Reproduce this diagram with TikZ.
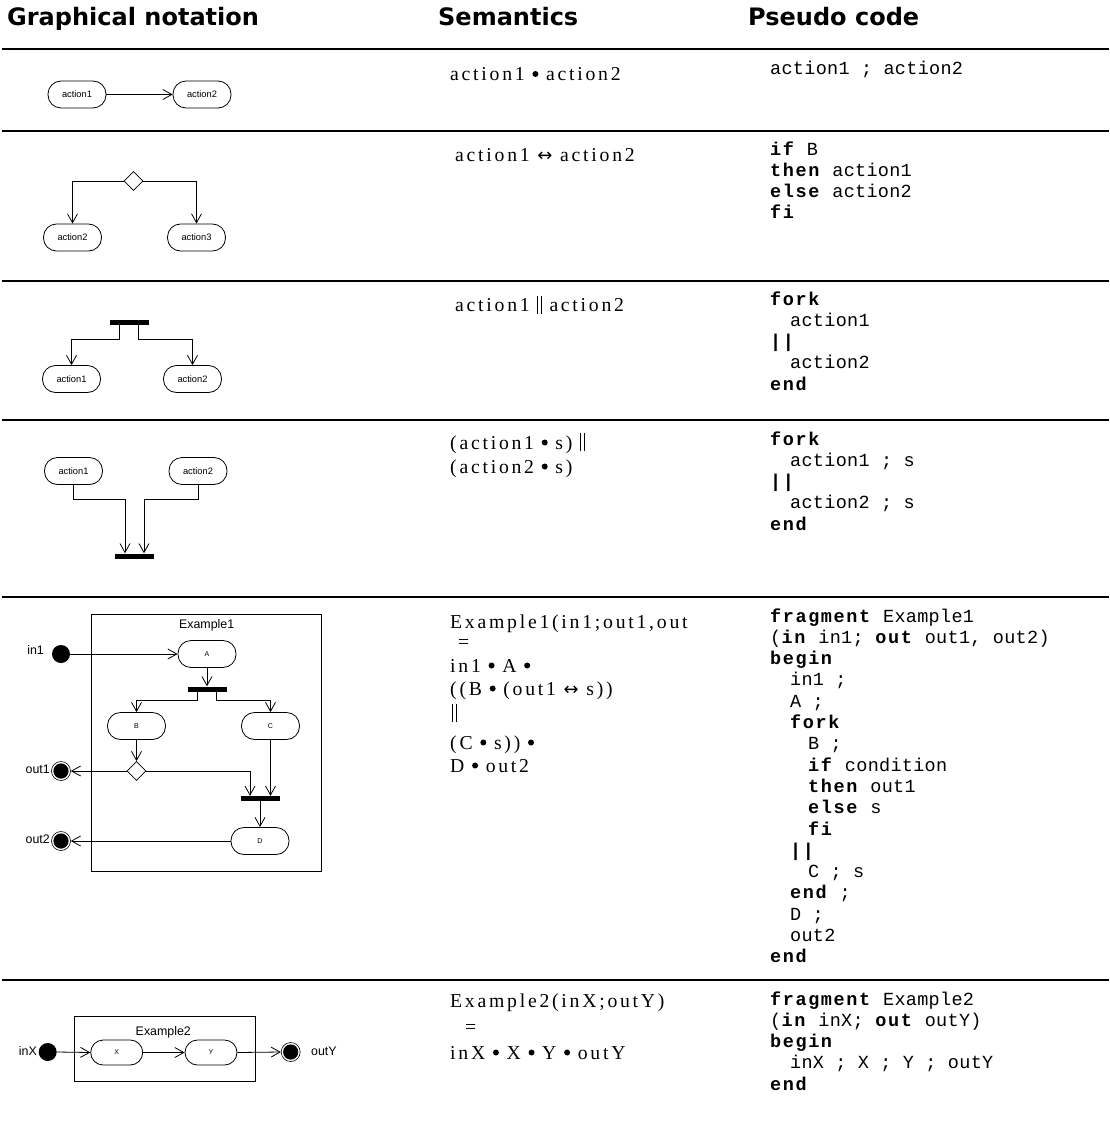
\documentclass[tikz,border=0pt]{standalone}
\usepackage{fontspec}
\usetikzlibrary{arrows.meta,shapes.geometric,calc}
\setmainfont{Liberation Serif}
\newfontfamily\headfont{DejaVu Sans}
\newfontfamily\semfont{Liberation Serif}[LetterSpace=14]
\newfontfamily\codefont{Liberation Mono}[LetterSpace=1.6, BoldFeatures={LetterSpace=8.6}]
\newfontfamily\diafont{Liberation Sans}
\newfontfamily\arrowfont{DejaVu Sans}
\newcommand\kw[1]{\textbf{#1}}
% parallel bars and sequencing dot of the semantic notation
\newcommand\dbar{\mbox{\rule[-2pt]{0.7pt}{18pt}\hspace{3pt}\rule[-2pt]{0.7pt}{18pt}}}
\newcommand\bul{\tikz[baseline={(0pt,-6.5pt)}]\fill (0pt,0pt) circle[radius=3pt];}
\newcommand\lrar{{\arrowfont\fontsize{18}{22}\selectfont ↔}}

\tikzset{
  sepline/.style={line width=2.5pt},
  head/.style={anchor=base west, inner sep=0, font=\headfont\bfseries\fontsize{24}{28}\selectfont},
  sem/.style={anchor=base west, inner sep=0, font=\semfont\fontsize{19.7}{22}\selectfont},
  code/.style={anchor=base west, inner sep=0, font=\codefont\fontsize{18.5}{21.3}\selectfont},
  act/.style={draw, line width=0.8pt, rounded corners=13pt, minimum width=58pt,
    minimum height=27pt, inner sep=0, font=\diafont\fontsize{9.3}{10}\selectfont},
  exact/.style={act, font=\diafont\fontsize{7}{8}\selectfont},
  smallact/.style={act, rounded corners=12.5pt, minimum width=52pt, minimum height=25pt,
    font=\diafont\fontsize{7}{8}\selectfont},
  bar/.style={fill=black, minimum width=39pt, minimum height=5pt, inner sep=0},
  choice/.style={draw, diamond, minimum width=19pt, minimum height=19pt, inner sep=0, line width=0.8pt},
  flow/.style={line width=0.8pt, -{Straight Barb[length=9pt, width=10pt, line width=0.8pt]}},
  startdot/.style={circle, fill=black, minimum size=18pt, inner sep=0},
  enddot/.style={circle, draw, line width=0.6pt, minimum size=19pt, inner sep=0,
    path picture={\fill (path picture bounding box.center) circle (7.6pt);}},
  frame/.style={draw, line width=0.8pt, inner sep=0},
  lbl/.style={font=\diafont\fontsize{12.4}{14}\selectfont, inner sep=0},
}

\begin{document}
\begin{tikzpicture}[x=1pt, y=-1pt]
\useasboundingbox (0,0) rectangle (1109,1129);

% column headings
\node[head] (h1) at (7,26) {Graphical notation};
\node[head] (h2) at (438,26) {Semantics};
\node[head] (h3) at (748,26) {Pseudo code};

% row separators
\foreach \yy/\nm in {49/l0, 131/l1, 281/l2, 420/l3, 597/l4, 980/l5}
  \draw[sepline] (2,\yy) coordinate (\nm a) -- (1109,\yy) coordinate (\nm b);

% ---- sequence
\node[act] (r1a) at (77,94.5) {action1};
\node[act] (r1b) at (202,94.5) {action2};
\draw[flow] (r1a.east) -- (r1b.west);

\node[sem] (s1) at (450,80.5) {action1 \bul{} action2};
\node[code] (c1) at (770,75) {action1 ; action2};

% ---- choice
\node[choice] (r2d) at (133.5,181) {};
\node[act] (r2a) at (72.5,237.5) {action2};
\node[act] (r2b) at (196.5,237.5) {action3};
\draw[flow] (r2d.west) -| (r2a.north);
\draw[flow] (r2d.east) -| (r2b.north);

\node[sem] (s2) at (455,161.5) {action1 \lrar{} action2};
\node[code] (c2a) at (770,155) {\kw{if} B};
\node[code] (c2b) at (770,176.3) {\kw{then} action1};
\node[code] (c2c) at (770,197.6) {\kw{else} action2};
\node[code] (c2d) at (770,218.9) {\kw{fi}};

% ---- fork
\node[bar] (r3bar) at (129.5,322.5) {};
\node[act] (r3a) at (71.5,379) {action1};
\node[act] (r3b) at (192.5,379) {action2};
\draw[flow] ([xshift=-10pt]r3bar.south) -- ++(0,14) -| (r3a.north);
\draw[flow] ([xshift=9pt]r3bar.south) -- ++(0,14) -| (r3b.north);

\node[sem] (s3) at (455,311.5) {action1 \dbar{} action2};
\node[code] (c3a) at (770,305) {\kw{fork}};
\node[code] (c3b) at (790,326.3) {action1};
\node[code] (c3c) at (770,347.6) {\kw{||}};
\node[code] (c3d) at (790,368.9) {action2};
\node[code] (c3e) at (770,390.2) {\kw{end}};

% ---- join
\node[act] (r4a) at (73.5,471) {action1};
\node[act] (r4b) at (198,471) {action2};
\node[bar] (r4bar) at (134.5,556) {};
\draw[flow] (r4a.south) -- ++(0,14.5) -| ([xshift=-9.5pt]r4bar.north);
\draw[flow] (r4b.south) -- ++(0,14.5) -| ([xshift=9.5pt]r4bar.north);

\node[sem] (s4a) at (450,449) {(action1 \bul{} s) \dbar};
\node[sem] (s4b) at (450,473) {(action2 \bul{} s)};
\node[code] (c4a) at (770,445) {\kw{fork}};
\node[code] (c4b) at (790,466.3) {action1 ; s};
\node[code] (c4c) at (770,487.6) {\kw{||}};
\node[code] (c4d) at (790,508.9) {action2 ; s};
\node[code] (c4e) at (770,530.2) {\kw{end}};

% ---- fragment Example1
\node[frame, minimum width=230pt, minimum height=257.7pt] (ex1) at (206.7,742.8) {};
\node[lbl] (ex1t) at (206.7,625) {Example1};
\node[startdot] (in1) at (61,654) {};
\node[lbl, anchor=east] (in1l) at (44,650) {in1};
\node[exact] (nA) at (207,654) {A};
\node[bar] (bar1) at (207,689) {};
\node[exact] (nB) at (136.5,726) {B};
\node[exact] (nC) at (270.5,726) {C};
\node[choice] (d1) at (136.5,771) {};
\node[enddot] (out1) at (61,771) {};
\node[lbl, anchor=east] (out1l) at (50,769) {out1};
\node[bar] (bar2) at (260,798.5) {};
\node[exact] (nD) at (260,841) {D};
\node[enddot] (out2) at (61,841) {};
\node[lbl, anchor=east] (out2l) at (50,839) {out2};

\draw[flow] (in1.east) -- (nA.west);
\draw[flow] (nA.south) -- (bar1.north);
\draw[flow] ([xshift=-9.5pt]bar1.south) -- ++(0,8.5) -| (nB.north);
\draw[flow] ([xshift=9.5pt]bar1.south) -- ++(0,8.5) -| (nC.north);
\draw[flow] (nB.south) -- (d1.north);
\draw[flow] (d1.west) -- (out1.east);
\draw[flow] (d1.east) -| ([xshift=-10pt]bar2.north);
\draw[flow] (nC.south) -- (nC.south |- bar2.north);
\draw[flow] (bar2.south) -- (nD.north);
\draw[flow] (nD.west) -- (out2.east);

\begin{scope}
  \clip (440,600) rectangle (689,640);
  \node[sem] (s5a) at (450,628) {Example1(in1;out1,out2)};
\end{scope}
\node[sem] (s5b) at (458,648) {=};
\node[sem] (s5c) at (450,672) {in1 \bul{} A \bul};
\node[sem] (s5d) at (450,695) {((B \bul{} (out1 \lrar{} s))};
\node[sem] (s5e) at (452,720) {\dbar};
\node[sem] (s5f) at (450,749) {(C \bul{} s)) \bul};
\node[sem] (s5g) at (450,772) {D \bul{} out2};

\node[code] (c5a) at (770,622) {\kw{fragment} Example1};
\node[code] (c5b) at (770,643.3) {(\kw{in} in1; \kw{out} out1, out2)};
\node[code] (c5c) at (770,664.6) {\kw{begin}};
\node[code] (c5d) at (790,685.9) {in1 ;};
\node[code] (c5e) at (790,707.2) {A ;};
\node[code] (c5f) at (790,728.5) {\kw{fork}};
\node[code] (c5g) at (808,749.8) {B ;};
\node[code] (c5h) at (808,771.1) {\kw{if} condition};
\node[code] (c5i) at (808,792.4) {\kw{then} out1};
\node[code] (c5j) at (808,813.7) {\kw{else} s};
\node[code] (c5k) at (808,835) {\kw{fi}};
\node[code] (c5l) at (790,856.3) {\kw{||}};
\node[code] (c5m) at (808,877.6) {C ; s};
\node[code] (c5n) at (790,898.9) {\kw{end} ;};
\node[code] (c5o) at (790,920.2) {D ;};
\node[code] (c5p) at (790,941.5) {out2};
\node[code] (c5q) at (770,962.8) {\kw{end}};

% ---- fragment Example2
\node[frame, minimum width=181pt, minimum height=65.7pt] (ex2) at (164.5,1048.9) {};
\node[lbl] (ex2t) at (163.3,1032.7) {Example2};
\node[startdot] (inX) at (47.7,1052) {};
\node[lbl, anchor=east] (inXl) at (37,1051) {inX};
\node[smallact] (nX) at (116.7,1052.5) {X};
\node[smallact] (nY) at (211,1052.5) {Y};
\node[enddot] (outY) at (290.7,1052) {};
\node[lbl, anchor=west] (outYl) at (311,1051) {outY};
\draw[flow] (inX.east) -- (nX.west);
\draw[flow] (nX.east) -- (nY.west);
\draw[flow] (nY.east) -- (outY.west);

\node[sem] (s6a) at (450,1007) {Example2(inX;outY)};
\node[sem] (s6b) at (465,1033) {=};
\node[sem] (s6c) at (450,1059) {inX \bul{} X \bul{} Y \bul{} outY};

\node[code] (c6a) at (770,1005) {\kw{fragment} Example2};
\node[code] (c6b) at (770,1026.3) {(\kw{in} inX; \kw{out} outY)};
\node[code] (c6c) at (770,1047.6) {\kw{begin}};
\node[code] (c6d) at (790,1068.9) {inX ; X ; Y ; outY};
\node[code] (c6e) at (770,1090.2) {\kw{end}};
\end{tikzpicture}
\end{document}
